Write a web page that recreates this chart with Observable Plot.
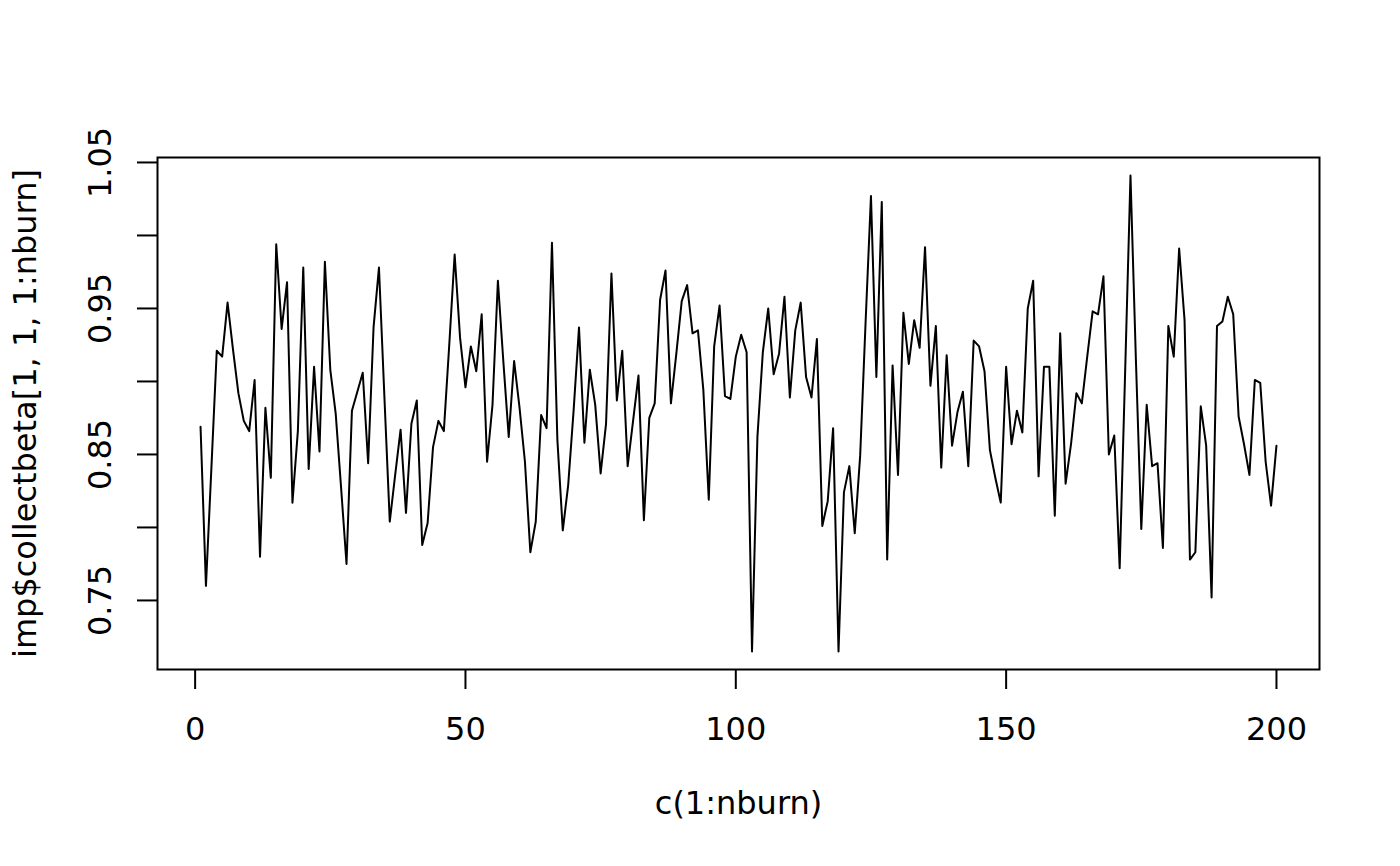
<!DOCTYPE html>
<html>
<head>
<meta charset="utf-8">
<script src="https://cdn.jsdelivr.net/npm/d3@7"></script>
<script src="https://cdn.jsdelivr.net/npm/@observablehq/plot@0.6"></script>
<style>
  html, body { margin: 0; padding: 0; background: #fff; }
  #chart { width: 1400px; height: 866px; }
</style>
</head>
<body>
<div id="chart"></div>
<script>
const betaValues = [
  0.869, 0.760, 0.840, 0.921, 0.917, 0.954, 0.922, 0.892, 0.873, 0.866,
  0.901, 0.780, 0.882, 0.834, 0.994, 0.936, 0.968, 0.817, 0.866, 0.978,
  0.840, 0.910, 0.852, 0.982, 0.908, 0.878, 0.827, 0.775, 0.880, 0.893,
  0.906, 0.844, 0.937, 0.978, 0.890, 0.804, 0.836, 0.867, 0.810, 0.871,
  0.887, 0.788, 0.803, 0.855, 0.873, 0.866, 0.925, 0.987, 0.930, 0.896,
  0.924, 0.907, 0.946, 0.845, 0.884, 0.969, 0.914, 0.862, 0.914, 0.882,
  0.845, 0.783, 0.804, 0.877, 0.868, 0.995, 0.860, 0.798, 0.829, 0.880,
  0.937, 0.858, 0.908, 0.884, 0.837, 0.871, 0.974, 0.887, 0.921, 0.842,
  0.873, 0.904, 0.805, 0.875, 0.885, 0.956, 0.976, 0.885, 0.919, 0.955,
  0.966, 0.933, 0.935, 0.894, 0.819, 0.924, 0.952, 0.890, 0.888, 0.917,
  0.932, 0.920, 0.715, 0.862, 0.920, 0.950, 0.905, 0.919, 0.958, 0.889,
  0.935, 0.954, 0.903, 0.889, 0.929, 0.801, 0.818, 0.868, 0.715, 0.824,
  0.842, 0.796, 0.849, 0.940, 1.027, 0.903, 1.023, 0.778, 0.911, 0.836,
  0.947, 0.912, 0.942, 0.923, 0.992, 0.897, 0.938, 0.841, 0.918, 0.856,
  0.879, 0.893, 0.842, 0.928, 0.924, 0.907, 0.853, 0.834, 0.817, 0.910,
  0.857, 0.880, 0.865, 0.950, 0.969, 0.835, 0.910, 0.910, 0.808, 0.933,
  0.830, 0.857, 0.892, 0.885, 0.917, 0.948, 0.946, 0.972, 0.850, 0.863,
  0.772, 0.905, 1.041, 0.915, 0.799, 0.884, 0.842, 0.844, 0.786, 0.938,
  0.917, 0.991, 0.942, 0.778, 0.783, 0.883, 0.856, 0.752, 0.938, 0.941,
  0.958, 0.946, 0.876, 0.857, 0.836, 0.901, 0.899, 0.845, 0.815, 0.856
];
const iterations = betaValues.map((_, i) => i + 1);
const xTicks = [0, 50, 100, 150, 200];
const yTicks = [0.75, 0.80, 0.85, 0.90, 0.95, 1.00, 1.05];
const yLabelTicks = [0.75, 0.85, 0.95, 1.05];
const xTitle = "c(1:nburn)";
const yTitle = "imp$collectbeta[1, 1, 1:nburn]";

const data = iterations.map((it, i) => ({it, beta: betaValues[i]}));
const FS = 32;

const chart = Plot.plot({
  width: 1400,
  height: 866,
  marginLeft: 157,
  marginRight: 81,
  marginTop: 157,
  marginBottom: 197,
  style: {fontFamily: "DejaVu Sans", fontSize: FS + "px", background: "#fff", color: "#000"},
  x: {domain: [-6.96, 207.96], axis: null},
  y: {domain: [0.7027, 1.0534], axis: null},
  marks: [
    Plot.frame({stroke: "#000", strokeWidth: 2}),
    Plot.axisX({ticks: xTicks, tickSize: 20, tickFormat: () => "", label: null, strokeWidth: 2, stroke: "#000"}),
    Plot.axisY({ticks: yTicks, tickSize: 20, tickFormat: () => "", label: null, strokeWidth: 2, stroke: "#000"}),
    Plot.text(xTicks, {x: d => d, frameAnchor: "bottom", dy: 60, text: d => String(d), fill: "#000", fontSize: FS, lineAnchor: "middle"}),
    Plot.text(yLabelTicks, {y: d => d, frameAnchor: "left", dx: -57, rotate: -90, text: d => d.toFixed(2), fill: "#000", fontSize: FS, lineAnchor: "middle", textAnchor: "middle"}),
    Plot.text([xTitle], {frameAnchor: "bottom", dy: 134, text: d => d, fill: "#000", fontSize: FS, lineAnchor: "middle"}),
    Plot.text([yTitle], {frameAnchor: "left", dx: -132, rotate: -90, text: d => d, fill: "#000", fontSize: FS, lineAnchor: "middle", textAnchor: "middle"}),
    Plot.line(data, {x: "it", y: "beta", stroke: "#000", strokeWidth: 2})
  ]
});
document.getElementById("chart").appendChild(chart);
</script>
</body>
</html>
